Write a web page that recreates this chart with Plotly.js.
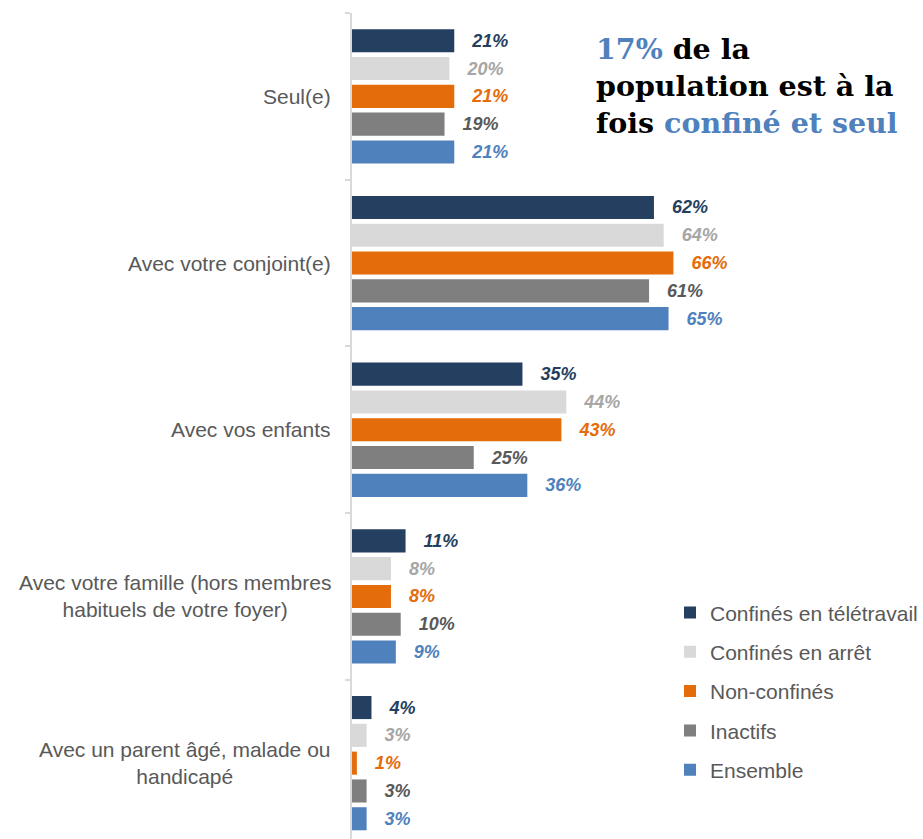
<!DOCTYPE html>
<html>
<head>
<meta charset="utf-8">
<script src="https://cdn.plot.ly/plotly-3.0.1.min.js"></script>
<style>
  html, body { margin: 0; padding: 0; background: #ffffff; }
  #chart { width: 923px; height: 839px; }
</style>
</head>
<body>
<div id="chart"></div>
<script>
// ---- Data ----
const categories = [
  "Seul(e)",
  "Avec votre conjoint(e)",
  "Avec vos enfants",
  "Avec votre famille (hors membres<br>habituels de votre foyer)",
  "Avec un parent âgé, malade ou<br>handicapé"
];
const seriesNames = [
  "Confinés en télétravail",
  "Confinés en arrêt",
  "Non-confinés",
  "Inactifs",
  "Ensemble"
];
const teletravail = [21, 62, 35, 11, 4];
const arret       = [20, 64, 44, 8, 3];
const nonConfines = [21, 66, 43, 8, 1];
const inactifs    = [19, 61, 25, 10, 3];
const ensemble    = [21, 65, 36, 9, 3];

const calloutLines = [
  ["17%", " de la"],
  ["population est à la"],
  ["fois ", "confiné et seul"]
];

// ---- Styles ----
const barColors  = ["#243F60", "#D9D9D9", "#E46C0A", "#7F7F7F", "#4F81BD"];
const textColors = ["#243F60", "#A6A6A6", "#E46C0A", "#595959", "#4F81BD"];
const seriesValues = [teletravail, arret, nonConfines, inactifs, ensemble];
const FONT = "Liberation Sans, Arial, sans-serif";
const PAD = "\u00a0\u00a0\u00a0";

const traces = seriesValues.map((vals, i) => ({
  type: "bar",
  orientation: "h",
  name: seriesNames[i],
  legendgroup: "g" + i,
  x: vals,
  y: categories,
  marker: { color: barColors[i], line: { width: 0 } },
  text: vals.map(v => PAD + v + "%"),
  texttemplate: "%{text}",
  textposition: "outside",
  constraintext: "none",
  cliponaxis: false,
  textfont: { family: FONT, size: 18, color: textColors[i], weight: "bold", style: "italic" },
  hoverinfo: "skip"
}));

const annotations = categories.map(c => ({
  xref: "paper", yref: "y",
  x: 0, y: c,
  xanchor: "right", yanchor: "middle",
  xshift: -19,
  text: c,
  align: "center",
  showarrow: false,
  font: { family: FONT, size: 21, color: "#595959" }
}));

const blue = "#4F81BD";
const calloutText =
  '<span style="color:' + blue + '">' + calloutLines[0][0] + '</span>' + calloutLines[0][1] + '<br>' +
  calloutLines[1][0] + '<br>' +
  calloutLines[2][0] + '<span style="color:' + blue + '">' + calloutLines[2][1] + '</span>';

annotations.push({
  xref: "paper", yref: "paper",
  x: (594 - 352) / 571, y: 0.979,
  xanchor: "left", yanchor: "top",
  align: "left",
  showarrow: false,
  text: calloutText,
  font: { family: "DejaVu Serif, serif", size: 28.5, color: "#000000", weight: "bold" }
});

const layout = {
  width: 923,
  height: 839,
  margin: { l: 352, r: 0, t: 13, b: 0, pad: 0 },
  paper_bgcolor: "#ffffff",
  plot_bgcolor: "#ffffff",
  barmode: "group",
  bargap: 0.166,
  bargroupgap: 0.17,
  showlegend: true,
  legend: {
    x: (670 - 352) / 571, y: 0.2986, xanchor: "left", yanchor: "top",
    traceorder: "grouped",
    tracegroupgap: 9,
    font: { family: FONT, size: 21, color: "#595959" },
    bgcolor: "rgba(0,0,0,0)",
    itemclick: false, itemdoubleclick: false
  },
  xaxis: {
    range: [0, 571 / 4.87],
    showgrid: false, zeroline: false, showline: false,
    showticklabels: false, ticks: ""
  },
  yaxis: {
    type: "category",
    range: [4.455, -0.5],
    showgrid: false, zeroline: false,
    showline: true, linecolor: "#D9D9D9", linewidth: 2,
    ticks: "outside", tickson: "boundaries", ticklen: 5, tickwidth: 2, tickcolor: "#D9D9D9",
    showticklabels: false
  },
  annotations: annotations,
  font: { family: FONT }
};

Plotly.newPlot("chart", traces, layout, { displayModeBar: false, staticPlot: true });
</script>
</body>
</html>
